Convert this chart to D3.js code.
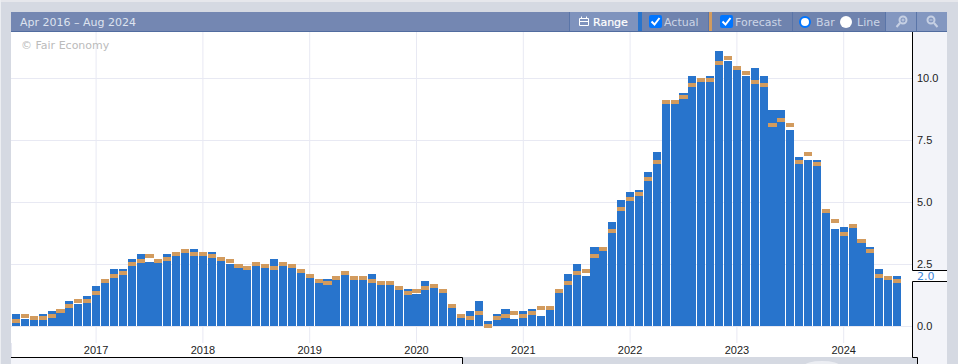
<!DOCTYPE html>
<meta charset="utf-8">
<style>
html, body { margin: 0; padding: 0; background: #d5d9e2; overflow: hidden; }
svg { display: block; font-family: "DejaVu Sans", sans-serif; font-size: 11px; }
.grid line { stroke: #e8e9f3; stroke-width: 1px; }
.grid path { display: none; }
.axis path, .axis line { display: none; }
.axis text { fill: #222; font-size: 11px; }
.hdr { fill: #ccd5e6; font-size: 11px; }
</style>
<svg width="958" height="364"></svg>
<script src="https://d3js.org/d3.v7.min.js"></script>
<script>

// one bar per release month
var startMonth = "2016-04";
var actual = [0.5,0.3,0.3,0.5,0.6,0.6,1.0,0.9,1.2,1.6,
  1.8,2.3,2.3,2.7,2.9,2.6,2.6,2.9,3.0,3.0,3.1,3.0,
  3.0,2.7,2.5,2.4,2.4,2.4,2.5,2.7,2.4,2.4,2.3,2.1,
  1.8,1.9,1.9,2.1,2.0,2.0,2.1,1.7,1.7,1.5,1.5,1.3,
  1.8,1.7,1.5,0.8,0.5,0.6,1.0,0.2,0.5,0.7,0.3,0.6,
  0.7,0.4,0.7,1.5,2.1,2.5,2.0,3.2,3.1,4.2,5.1,5.4,
  5.5,6.2,7.0,9.0,9.1,9.4,10.1,9.9,10.1,11.1,10.7,10.5,
  10.1,10.4,10.1,8.7,8.7,7.9,6.8,6.7,6.7,4.6,3.9,4.0,
  4.0,3.4,3.2,2.3,2.0,2.0];
var forecast = [0.3,0.5,0.4,0.4,0.5,0.7,0.9,1.1,1.1,1.4,
  1.9,2.1,2.2,2.6,2.7,2.9,2.7,2.8,3.0,3.1,3.0,3.0,
  2.9,2.8,2.7,2.5,2.4,2.6,2.5,2.4,2.6,2.5,2.3,2.1,
  1.9,1.8,2.0,2.2,2.0,2.0,1.9,1.8,1.8,1.6,1.4,1.5,
  1.6,1.7,1.5,0.9,0.5,0.4,0.6,0.1,0.4,0.5,0.6,0.5,
  0.6,0.8,0.8,1.5,1.8,2.2,2.3,2.9,3.2,3.9,4.8,5.2,
  5.4,6.0,6.7,9.1,9.1,9.3,9.8,10.0,10.0,10.7,10.9,10.5,
  10.3,9.9,9.8,8.2,8.4,8.2,6.7,7.0,6.6,4.7,4.3,3.8,
  4.1,3.5,3.1,2.1,2.0,1.9];
var yTicks = [0, 2.5, 5, 7.5, 10];
var yearLabels = [2017, 2018, 2019, 2020, 2021, 2022, 2023, 2024];
var lastValue = 2.0;

var svg = d3.select("svg");

var parseMonth = d3.utcParse("%Y-%m");
var months = actual.map(function(d, i) { return d3.utcMonth.offset(parseMonth(startMonth), i); });
var yearTicks = yearLabels.map(function(y) { return parseMonth(y + "-01"); });

var x = d3.scaleBand().domain(months).range([11.55, 901.55]).paddingInner(0.1).paddingOuter(0.05);
var y = d3.scaleLinear().domain([0, 10]).range([326, 78]);

// page panels
svg.append("rect").attr("width", 958).attr("height", 2).attr("fill", "#e6e7ec");
svg.append("rect").attr("width", 1).attr("height", 364).attr("fill", "#eceef2");
svg.append("rect").attr("x", 11).attr("y", 32).attr("width", 901).attr("height", 325).attr("fill", "#fff");
svg.append("rect").attr("x", 913).attr("y", 32).attr("width", 34).attr("height", 332).attr("fill", "#f3f4f9");
svg.append("rect").attr("x", 11).attr("y", 357).attr("width", 451).attr("height", 7).attr("fill", "#f3f4f9");
svg.append("rect").attr("x", 913).attr("y", 357).attr("width", 4).attr("height", 7).attr("fill", "#d5d9e2");
svg.append("ellipse").attr("cx", 822).attr("cy", 366).attr("rx", 18).attr("ry", 5).attr("fill", "#eceef3");

// grid
svg.append("g").attr("class", "grid")
  .attr("transform", "translate(0,32)")
  .call(d3.axisBottom(x).tickValues(yearTicks).tickSize(311).tickFormat(""));
svg.append("g").attr("class", "grid")
  .attr("transform", "translate(912,0)")
  .call(d3.axisLeft(y).tickValues(yTicks).tickSize(901).tickFormat(""));
svg.append("line").attr("x1", 11.5).attr("x2", 11.5).attr("y1", 343).attr("y2", 357).attr("stroke", "#e8e9f3");

// bars
svg.append("g").selectAll("rect")
  .data(actual)
  .enter()
  .append("rect")
  .attr("shape-rendering", "crispEdges")
  .attr("x", function(d, i) { return x(months[i]); })
  .attr("width", x.bandwidth())
  .attr("y", function(d) { return Math.round(y(d)); })
  .attr("height", function(d) { return y(0) - Math.round(y(d)); })
  .attr("fill", "#2874cc");

svg.append("g").selectAll("rect")
  .data(forecast)
  .enter()
  .append("rect")
  .attr("shape-rendering", "crispEdges")
  .attr("x", function(d, i) { return x(months[i]); })
  .attr("width", x.bandwidth())
  .attr("y", function(d) { return Math.round(y(d)); })
  .attr("height", 4)
  .attr("fill", "#d29b5e");

svg.append("text").attr("x", 21).attr("y", 49).attr("fill", "#bbb").text("© Fair Economy");

// axes
svg.append("g").attr("class", "axis")
  .attr("transform", "translate(0,343)")
  .call(d3.axisBottom(x).tickValues(yearTicks).tickSize(0).tickPadding(3).tickFormat(d3.utcFormat("%Y")));
svg.append("g").attr("class", "axis")
  .attr("transform", "translate(912,0)")
  .call(d3.axisRight(y).tickValues(yTicks).tickSize(0).tickPadding(5).tickFormat(d3.format(".1f")));

// last value flag on the right axis
svg.append("rect").attr("x", 912).attr("y", 270.5).attr("width", 35).attr("height", 11).attr("fill", "#fff");
svg.append("text").attr("x", 917).attr("y", 280).attr("fill", "#3d86d8").text(d3.format(".1f")(lastValue));

var border = svg.append("g").attr("fill", "none").attr("stroke", "#000");
border.append("path").attr("d", "M912.5,32V270.5H947");
border.append("path").attr("d", "M947,281.5H912.5V357.5H917.5V364");
border.append("path").attr("d", "M11,357.5H462.5V364");

// header bar
var head = svg.append("g");
head.append("rect").attr("x", 11).attr("y", 12).attr("width", 936).attr("height", 20).attr("fill", "#7487b2");
head.append("rect").attr("x", 570).attr("y", 12).attr("width", 68).attr("height", 19).attr("fill", "#7f93bd");
head.append("rect").attr("x", 642).attr("y", 12).attr("width", 243).attr("height", 19).attr("fill", "#6f83ae");
head.append("rect").attr("x", 886).attr("y", 12).attr("width", 61).attr("height", 19).attr("fill", "#8397c0");
head.append("rect").attr("x", 11).attr("y", 31).attr("width", 936).attr("height", 1).attr("fill", "#516c9f");
[569, 708, 792, 885, 916].forEach(function(px) {
  head.append("rect").attr("x", px).attr("y", 12).attr("width", 1).attr("height", 19).attr("fill", "#5a75a8");
});
head.append("rect").attr("x", 638).attr("y", 12).attr("width", 4).attr("height", 19).attr("fill", "#2874cc");
head.append("rect").attr("x", 709).attr("y", 12).attr("width", 3).attr("height", 19).attr("fill", "#d29b5e");

head.append("text").attr("class", "hdr").attr("x", 20).attr("y", 26).style("fill", "#dde3ef").text("Apr 2016 – Aug 2024");
head.append("text").attr("class", "hdr").attr("x", 593).attr("y", 26).style("fill", "#fff").attr("stroke", "#fff").attr("stroke-width", 0.2).text("Range");
head.append("text").attr("class", "hdr").attr("x", 664).attr("y", 26).text("Actual");
head.append("text").attr("class", "hdr").attr("x", 735).attr("y", 26).text("Forecast");
head.append("text").attr("class", "hdr").attr("x", 816).attr("y", 26).text("Bar");
head.append("text").attr("class", "hdr").attr("x", 857).attr("y", 26).text("Line");

// range calendar icon
var cal = head.append("g").attr("fill", "none").attr("stroke", "#fff");
cal.append("path").attr("d", "M579.5,18.5h9v7h-9zM579.5,21.5h9M581.5,16.5v2M586.5,16.5v2");

// checkboxes
[649, 720].forEach(function(px) {
  head.append("rect").attr("x", px).attr("y", 15).attr("width", 13).attr("height", 13).attr("rx", 2).attr("fill", "#0075ff");
  head.append("path").attr("d", "M" + (px + 2.5) + ",21.5l3,3l5,-6.5").attr("fill", "none").attr("stroke", "#fff").attr("stroke-width", 2);
});

// radios
head.append("circle").attr("cx", 805).attr("cy", 22).attr("r", 5).attr("fill", "#fff").attr("stroke", "#0075ff").attr("stroke-width", 2);
head.append("circle").attr("cx", 846).attr("cy", 22).attr("r", 6).attr("fill", "#fff");

// zoom icons
var mag = head.append("g").attr("fill", "none").attr("stroke", "#c6d0e3").attr("stroke-width", 2);
mag.append("circle").attr("cx", 903).attr("cy", 20).attr("r", 3.5);
mag.append("path").attr("d", "M900,23l-3.5,4");
mag.append("path").attr("d", "M901.5,20h3M903,18.5v3").attr("stroke-width", 1);
mag.append("circle").attr("cx", 931).attr("cy", 20).attr("r", 3.5);
mag.append("path").attr("d", "M934,23l3.5,4");
mag.append("path").attr("d", "M929.5,20h3").attr("stroke-width", 1);

</script>
